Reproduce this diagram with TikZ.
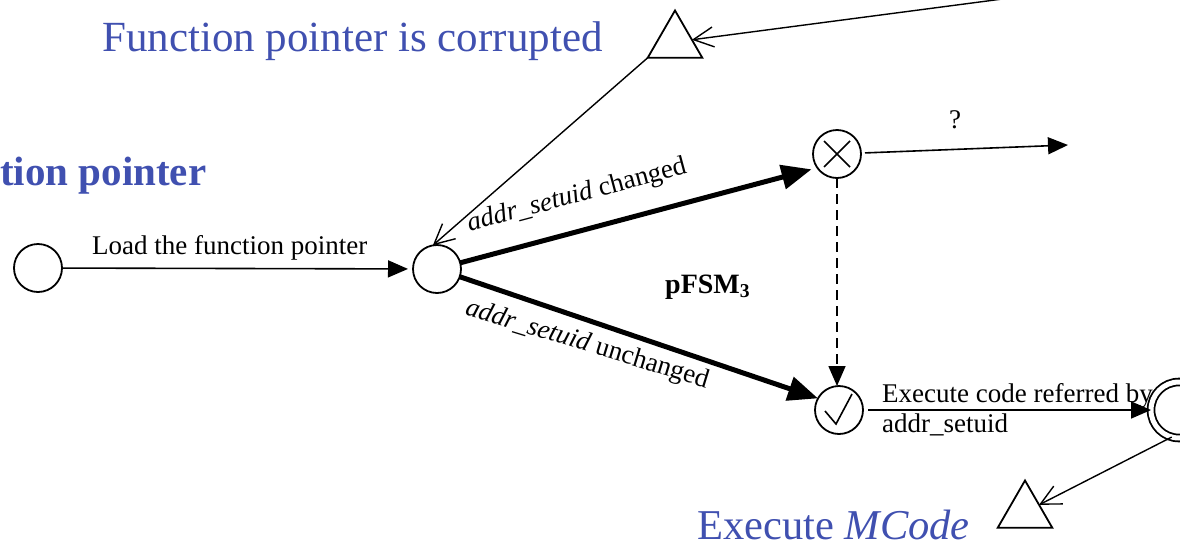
\documentclass[tikz,border=0pt]{standalone}
\usepackage{fontspec}
\setmainfont{Liberation Serif}
\usetikzlibrary{arrows.meta,shapes.geometric}
\definecolor{titleblue}{RGB}{64,80,176}
\tikzset{
  state/.style={circle,draw,line width=1.8pt,minimum size=48pt,inner sep=0pt,outer sep=0pt},
  final/.style={circle,draw,double,double distance=5pt,line width=1.8pt,minimum size=56pt,inner sep=0pt,outer sep=0pt},
  tri/.style={regular polygon,regular polygon sides=3,draw,line width=1.8pt,minimum size=63pt,inner sep=0pt,outer sep=0pt},
  thin/.style={line width=1.6pt,-{Triangle[length=20pt,width=17pt]}},
  heavy/.style={line width=5pt,-{Triangle[length=30pt,width=24pt]}},
  open/.style={line width=1.4pt,-{Straight Barb[length=20pt,width=20pt,line width=1.4pt]}},
  lbl/.style={font=\fontsize{27}{30}\selectfont,inner sep=0pt},
  title/.style={font=\fontsize{43}{46}\selectfont,text=titleblue,inner sep=0pt},
}
\begin{document}
\begin{tikzpicture}[x=1pt,y=-1pt]
\clip (0,0) rectangle (1180,544);

% headings
\node[title,anchor=base west] (hcor) at (102,51) {Function pointer is corrupted};
\node[title,anchor=base west,font=\fontsize{41}{46}\selectfont\bfseries] (hfp) at (0,185) {tion pointer};
\node[title,anchor=base west,font=\fontsize{42.5}{46}\selectfont] (hexe) at (697,539) {Execute \textit{MCode}};

% states
\node[state] (s0) at (38,268) {};
\node[state] (s1) at (437,269) {};
\node[state] (sx) at (837,154) {};
\node[state] (sv) at (839,410) {};
\node[final] (sf) at (1179,410) {};
\node[tri] (t1) at (675,42) {};
\node[tri] (t2) at (1025,512) {};

% marks inside the states
\draw[line width=1.6pt] ([shift={(-13,-13)}]sx.center) -- ([shift={(13,13)}]sx.center)
                        ([shift={(-13,13)}]sx.center) -- ([shift={(13,-13)}]sx.center);
\draw[line width=1.6pt,line join=miter] ([shift={(-14,1)}]sv.center) -- ([shift={(-3,14)}]sv.center) -- ([shift={(13,-16)}]sv.center);

% free ends
\coordinate (far) at (1010,-2);
\coordinate (qend) at (1068,145);

% transitions
\draw[thin,shorten >=5pt] (s0) -- (s1);
\node[lbl,anchor=base west] (lload) at (92,254) {Load the function pointer};

\draw[heavy,shorten >=6pt] (s1) -- (sx.215);
\node[lbl,rotate=15] (lchg) at (577,196) {\textit{addr\_setuid} changed};

\draw[heavy] (s1) -- (sv.151);
\node[lbl,rotate=-17] (lunc) at (587,345) {\textit{addr\_setuid} unchanged};

\node[lbl,font=\fontsize{28}{30}\selectfont\bfseries,anchor=base west] (pfsm) at (665,293) {pFSM\textsubscript{3}};

\draw[thin,dashed,dash pattern=on 10pt off 6pt] (sx.south) -- (sx.south |- sv.north);

\draw[thin,shorten <=4pt] (sx) -- (qend);
\node[lbl,anchor=base] (lq) at (955,128) {?};

\draw[thin,shorten <=5pt] (sv) -- (sf);
\node[lbl,anchor=base west] (lexe1) at (882,402) {Execute code referred by};
\node[lbl,anchor=base west] (lexe2) at (882,432) {addr\_setuid};

\draw[open] (far) -- (t1);
\draw[open] (t1.corner 2) -- (s1.100);
\draw[open] (sf.255) -- (t2);
\end{tikzpicture}
\end{document}
